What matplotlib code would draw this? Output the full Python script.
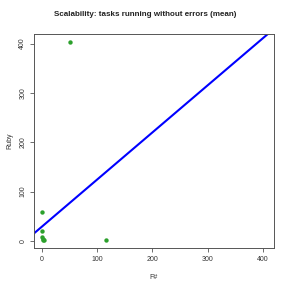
import matplotlib
matplotlib.use("Agg")
import matplotlib.pyplot as plt
import numpy as np

plt.rcParams['font.family'] = ['Liberation Sans', 'DejaVu Sans']

fsharp = [50, 115, 0, 0, 0, 1, 2, 3]
ruby = [404, 1, 58, 20, 7, 3, 1, 2]
line_intercept = 29.0
line_slope = 0.955
ticks = [0, 100, 200, 300, 400]

fig = plt.figure(figsize=(2.91, 2.91), dpi=100)
ax = fig.add_axes([34/291, (291-248)/291, (273.7-34)/291, (248-34)/291])

lo, hi = -14.5, 419.5
ax.set_xlim(lo, hi)
ax.set_ylim(lo, hi)

xs = np.array([lo, hi])
ax.plot(xs, line_intercept + line_slope * xs, color='#0000ff', lw=1.5, zorder=2)
ax.scatter(fsharp, ruby, s=10, color='#2ca02c', zorder=3, linewidths=0)

ax.set_xticks(ticks)
ax.set_yticks(ticks)
ax.set_xticklabels([str(t) for t in ticks], fontsize=5)
ax.set_yticklabels([str(t) for t in ticks], fontsize=5, rotation=90, va='center')
ax.tick_params(length=3, width=0.6, color='#555555', labelcolor='#333333', pad=2.5)
for s in ax.spines.values():
    s.set_color('#555555')
    s.set_linewidth(0.7)

ax.set_xlabel('F#', fontsize=5, color='#333333', labelpad=8)
ax.set_ylabel('Ruby', fontsize=5, color='#333333', labelpad=4)
fig.text(0.5, 1 - 15/291, 'Scalability: tasks running without errors (mean)',
         ha='center', va='center', fontsize=5.8, fontweight='bold', color='#222222')

fig.savefig('out.png', dpi=100)
